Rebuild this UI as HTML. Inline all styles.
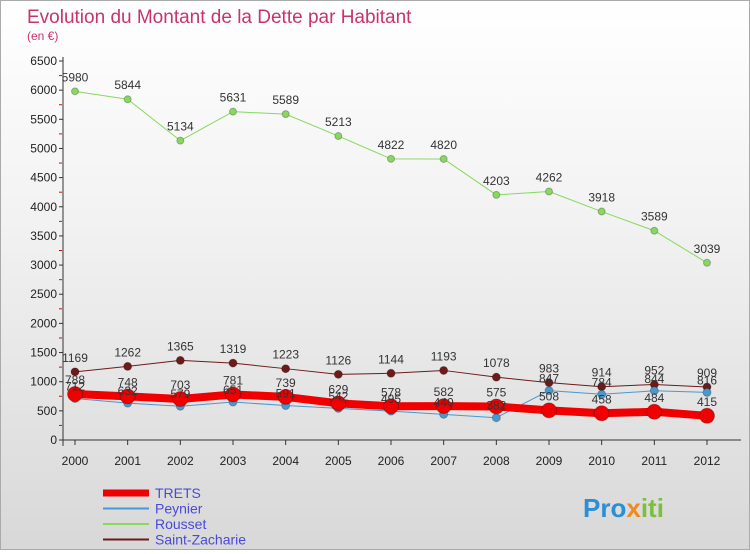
<!DOCTYPE html>
<html><head><meta charset="utf-8"><style>
body{margin:0;width:750px;height:550px;overflow:hidden;font-family:"Liberation Sans",sans-serif}
#wrap{position:relative;width:748px;height:548px;border:1px solid #aaa;background:linear-gradient(#fff 0%,#f2f2f2 40%,#d8d8d8 100%)}
</style></head><body>
<div id="wrap">
<svg id="chart" width="748" height="548" font-family="Liberation Sans, sans-serif">
<text x="26" y="22" font-size="19" fill="#c8336e">Evolution du Montant de la Dette par Habitant</text>
<text x="26" y="39" font-size="12" fill="#c8336e">(en €)</text>
<g id="axes"></g><g id="series"></g><g id="legend"></g>
<text x="582" y="516" font-size="26" font-weight="bold" fill="#2a8fd6">Pro<tspan fill="#f08a1c">x</tspan><tspan fill="#7cbf3a">iti</tspan></text>
</svg></div>
<script>
const years=["2000","2001","2002","2003","2004","2005","2006","2007","2008","2009","2010","2011","2012"];
const yTicks=[0,500,1000,1500,2000,2500,3000,3500,4000,4500,5000,5500,6000,6500];
const trets=[788,748,703,781,739,629,578,582,575,508,458,484,415];
const peynier=[712,632,579,651,591,542,495,440,382,847,784,844,816];
const rousset=[5980,5844,5134,5631,5589,5213,4822,4820,4203,4262,3918,3589,3039];
const stz=[1169,1262,1365,1319,1223,1126,1144,1193,1078,983,914,952,909];
const NS="http://www.w3.org/2000/svg";
function X(i){return 74+i*(632/(years.length-1));}
function Y(v){return 439-v*(379/6500);}
function mk(tag,attrs,parent,txt){const e=document.createElementNS(NS,tag);for(const k in attrs)e.setAttribute(k,attrs[k]);if(txt!==undefined)e.textContent=txt;parent.appendChild(e);return e;}
const axes=document.getElementById('axes');
yTicks.forEach((t,k)=>{
 const tk=mk('line',{x1:58,x2:62,y1:Y(t),y2:Y(t),stroke:'#333'},axes);
 
 
 if(k<yTicks.length-1){
  const m=mk('line',{x1:58,x2:61,y1:Y(t+250),y2:Y(t+250),stroke:'#e00'},axes);
  
  
 }
 const tx=mk('text',{x:56,y:Y(t)+4,'font-size':12,'text-anchor':'end',fill:'#222'},axes,String(t));
 
 
});
const ya=mk('line',{x1:62,x2:62,y1:56,y2:445,stroke:'#333'},axes);


const xa=mk('line',{x1:62,x2:740,y1:439,y2:439,stroke:'#333'},axes);


years.forEach((y,i)=>{
 const tk=mk('line',{x1:X(i),x2:X(i),y1:439,y2:444,stroke:'#333'},axes);
 
 
 const t=mk('text',{x:X(i),y:464,'font-size':12,'text-anchor':'middle',fill:'#222'},axes,y);
 
 
});
const ser=document.getElementById('series');
function draw(name,data,color,w,r){
 const g=mk('g',{},ser);
 
 
 const pl=mk('polyline',{points:data.map((v,i)=>X(i)+','+Y(v)).join(' '),fill:'none',stroke:color,'stroke-width':w,'stroke-linejoin':'round'},g);
 
 
 data.forEach((v,i)=>{
  const c=mk('circle',{cx:X(i),cy:Y(v),r:r,fill:color,stroke:'rgba(0,0,0,0.25)'},g);
  
  
 });
}
function labels(name,data,dy){
 data.forEach((v,i)=>{
  const t=mk('text',{x:X(i),y:Y(v)+dy,'font-size':12,'text-anchor':'middle',fill:'#333'},ser,String(v));
  
  
 });
}
draw('rousset',rousset,'#88d860',1,3.5);
draw('saint-zacharie',stz,'#6e1a1a',1,4);
draw('peynier',peynier,'#4a98d0',1,4);
draw('trets',trets,'#f00000',8,7.5);
labels('rousset',rousset,-10);labels('saint-zacharie',stz,-10);labels('trets',trets,-10);labels('peynier',peynier,-8);
const lg=document.getElementById('legend');
const items=[['TRETS','#f00000',7],['Peynier','#4a98d0',2],['Rousset','#88d860',2],['Saint-Zacharie','#6e1a1a',2]];
items.forEach((it,k)=>{
 const y=492+k*15.5;
 const l=mk('line',{x1:102,x2:148,y1:y,y2:y,stroke:it[1],'stroke-width':it[2]},lg);
 
 
 const t=mk('text',{x:154,y:y+5,'font-size':14,fill:'#4a4ad8'},lg,it[0]);
 
 
});
</script>
</body></html>
